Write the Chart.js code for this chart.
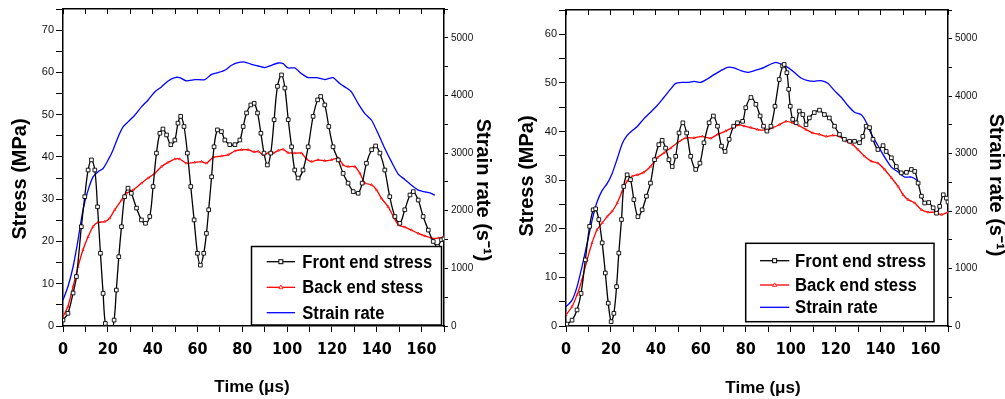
<!DOCTYPE html>
<html>
<head>
<meta charset="utf-8">
<script src="https://cdn.jsdelivr.net/npm/chart.js@4/dist/chart.umd.min.js"></script>
<style>
  html, body { margin: 0; padding: 0; background: #fff; width: 1005px; height: 399px; overflow: hidden; }
  canvas { position: absolute; top: 0; }
  #left { left: 0; }
  #right { left: 500px; }
</style>
</head>
<body>
<canvas id="left" width="500" height="399"></canvas>
<canvas id="right" width="505" height="399"></canvas>
<script>
// ---- Tick labels ----
const timeLabels = [0, 20, 40, 60, 80, 100, 120, 140, 160];
const rateLabels = [0, 1000, 2000, 3000, 4000, 5000];

// ---- Left panel: front end stress (MPa) ----
const leftFrontT = [0, 2.2, 4.5, 6.0, 8.2, 9.7, 11.2, 12.7, 14.2, 15.4, 16.7, 17.9, 18.9, 21.0, 22.8, 23.8, 24.9, 26.1, 27.5, 29.0, 30.5, 32.8, 35.0, 36.8, 38.7, 40.2, 41.7, 43.2, 44.6, 46.2, 48.1, 49.9, 51.3, 52.5, 54.0, 55.5, 57.0, 58.5, 60.0, 61.3, 62.8, 64.0, 65.0, 66.3, 67.4, 68.9, 70.7, 72.2, 74.4, 76.7, 78.9, 80.4, 81.9, 83.8, 85.3, 86.8, 88.3, 89.7, 91.2, 92.7, 94.2, 95.7, 97.5, 99.0, 100.5, 102.0, 103.4, 104.9, 107.1, 109.4, 111.6, 113.6, 115.0, 116.8, 118.6, 120.5, 122.8, 125.0, 127.2, 129.5, 131.7, 133.5, 135.4, 137.7, 139.5, 141.4, 143.6, 145.8, 148.1, 150.3, 152.5, 154.8, 156.3, 158.5, 160.7, 163.0, 165.2, 167.1, 168.9, 170.0];
const leftFrontS = [1.4, 3.0, 7.8, 11.7, 23.5, 30.6, 36.9, 39.3, 36.9, 28.2, 17.2, 7.7, 0.6, -3.0, 1.4, 8.5, 16.4, 23.5, 30.6, 32.6, 31.4, 27.9, 25.1, 24.3, 25.9, 33.0, 40.9, 45.6, 46.6, 45.2, 42.9, 44.0, 48.0, 49.6, 47.2, 40.9, 33.0, 25.1, 17.2, 14.4, 17.2, 21.9, 27.5, 35.3, 42.4, 46.4, 46.0, 44.0, 42.9, 42.9, 44.0, 47.2, 50.4, 52.3, 52.7, 50.4, 45.6, 40.9, 38.1, 40.9, 48.8, 56.7, 59.4, 56.3, 48.8, 42.4, 36.9, 35.0, 36.9, 42.4, 49.6, 53.5, 54.3, 52.3, 47.2, 42.4, 39.3, 36.1, 33.8, 31.8, 31.4, 33.8, 38.5, 41.7, 42.6, 40.9, 36.9, 30.6, 25.9, 24.3, 27.5, 31.0, 31.8, 29.8, 25.9, 22.7, 20.0, 18.8, 20.4, 20.6];

// ---- Left panel: back end stress (MPa) ----
const leftBackT = [0, 2.2, 4.5, 6.7, 8.9, 11.2, 13.4, 15.6, 18.6, 20.8, 23.1, 26.1, 28.3, 31.3, 35.0, 38.0, 40.9, 43.9, 46.9, 49.9, 52.1, 55.1, 58.8, 61.8, 64.0, 67.0, 70.7, 73.7, 76.7, 79.6, 82.6, 85.3, 87.1, 89.3, 91.5, 93.8, 96.0, 98.2, 100.4, 103.4, 106.4, 108.7, 110.9, 113.8, 116.8, 119.8, 122.8, 125.0, 127.2, 130.2, 132.5, 134.7, 137.7, 139.9, 142.1, 145.1, 147.4, 149.6, 152.5, 155.5, 158.5, 161.5, 164.5, 167.4, 170.0];
const leftBackS = [2.2, 4.6, 9.3, 14.0, 18.0, 21.1, 23.5, 24.5, 24.7, 25.5, 27.5, 29.8, 31.4, 32.2, 33.8, 35.0, 36.1, 37.7, 38.7, 39.5, 39.5, 38.5, 38.7, 38.9, 38.5, 39.9, 40.2, 40.5, 41.4, 41.7, 41.7, 41.2, 41.3, 40.5, 40.9, 40.9, 41.5, 41.8, 41.0, 40.9, 40.9, 39.5, 38.9, 39.3, 39.1, 39.3, 39.7, 38.1, 37.7, 37.7, 36.1, 33.8, 33.4, 32.2, 30.2, 28.2, 25.9, 23.9, 23.4, 22.7, 21.9, 21.3, 20.8, 20.8, 21.1];

// ---- Left panel: strain rate (1/s) ----
const leftRateT = [0, 2.2, 4.5, 6.7, 8.9, 11.2, 13.4, 15.6, 17.9, 20.1, 22.3, 24.6, 26.8, 29.0, 32.0, 35.0, 37.9, 40.9, 43.9, 46.9, 49.9, 52.1, 55.1, 58.8, 63.3, 66.3, 69.2, 72.2, 75.2, 78.1, 81.1, 84.1, 87.1, 90.0, 93.0, 96.0, 98.2, 100.4, 103.4, 106.4, 109.4, 113.1, 116.8, 120.5, 123.5, 126.5, 128.7, 131.7, 134.7, 137.7, 140.6, 143.6, 146.6, 149.6, 152.5, 155.5, 158.5, 161.5, 163.7, 165.9];
const leftRateR = [451, 681, 1028, 1490, 2010, 2357, 2587, 2674, 2733, 2877, 3050, 3281, 3454, 3541, 3657, 3801, 3917, 4061, 4148, 4252, 4310, 4310, 4252, 4275, 4275, 4367, 4397, 4437, 4523, 4570, 4580, 4540, 4511, 4483, 4523, 4563, 4552, 4477, 4477, 4379, 4310, 4310, 4275, 4310, 4206, 4130, 4061, 3859, 3686, 3570, 3339, 3080, 2847, 2634, 2542, 2444, 2357, 2328, 2310, 2270];

// ---- Right panel: front end stress (MPa) ----
const rightFrontT = [0.4, 2.7, 4.9, 6.7, 8.6, 10.5, 12.1, 13.2, 14.6, 16.1, 17.5, 18.8, 20.1, 21.3, 22.5, 23.5, 24.7, 25.7, 27.2, 28.7, 30.2, 32.0, 33.9, 35.8, 37.6, 39.4, 41.3, 42.8, 44.3, 45.8, 47.3, 48.8, 50.3, 52.0, 53.7, 55.5, 57.7, 59.6, 61.4, 63.7, 65.6, 67.4, 69.2, 70.8, 72.6, 74.6, 76.3, 78.6, 80.0, 82.3, 84.5, 86.4, 87.9, 89.4, 91.2, 93.0, 94.9, 96.4, 97.1, 98.3, 99.1, 99.8, 100.9, 102.4, 103.8, 105.4, 106.8, 108.3, 110.5, 112.8, 115.0, 117.2, 119.5, 121.7, 123.9, 126.2, 128.4, 130.6, 132.1, 133.6, 135.1, 136.6, 138.8, 141.1, 142.5, 144.8, 147.0, 149.2, 151.5, 153.7, 155.2, 156.7, 158.2, 159.6, 161.4, 163.4, 164.9, 166.3, 167.9, 169.3, 170.0];
const rightFrontS = [0.4, 1.2, 3.3, 6.7, 13.6, 20.5, 23.9, 24.1, 21.9, 17.1, 10.9, 4.7, 0.9, 2.6, 8.1, 15.0, 21.9, 28.7, 31.1, 30.1, 26.0, 22.5, 23.9, 26.7, 29.4, 34.2, 37.3, 38.2, 36.6, 34.2, 32.8, 34.9, 39.7, 41.8, 39.7, 34.9, 32.2, 33.5, 37.7, 41.8, 43.2, 41.1, 37.0, 35.9, 38.4, 41.1, 41.8, 42.1, 44.9, 47.0, 45.6, 43.2, 41.1, 40.1, 41.1, 45.2, 50.7, 53.5, 53.8, 52.1, 48.7, 45.2, 42.5, 41.8, 44.2, 43.5, 41.4, 42.8, 43.9, 44.4, 43.5, 42.8, 41.1, 39.4, 38.4, 38.0, 38.0, 37.7, 39.0, 41.1, 40.8, 38.4, 36.3, 37.1, 35.9, 34.6, 32.8, 31.5, 31.6, 32.2, 31.8, 29.4, 26.7, 25.3, 25.4, 24.3, 23.2, 24.6, 27.0, 26.3, 25.5];

// ---- Right panel: back end stress (MPa) ----
const rightBackT = [0, 2.7, 4.9, 7.1, 9.4, 11.6, 13.8, 16.1, 18.3, 20.5, 22.8, 25.0, 27.2, 29.5, 31.7, 34.6, 37.6, 40.6, 43.6, 46.6, 49.6, 53.3, 57.0, 60.7, 64.4, 67.4, 71.1, 74.1, 77.1, 79.3, 82.3, 85.3, 89.0, 92.0, 94.9, 97.9, 100.9, 103.8, 106.8, 109.8, 112.8, 115.8, 118.7, 121.7, 124.7, 127.7, 129.9, 132.9, 135.8, 138.8, 141.8, 144.8, 147.8, 150.0, 152.2, 155.2, 158.2, 161.2, 164.1, 167.1, 170.0];
const rightBackS = [2.3, 4.0, 6.4, 9.5, 13.6, 17.1, 19.8, 21.2, 22.5, 23.6, 25.3, 27.7, 29.8, 30.8, 31.1, 31.6, 32.8, 34.6, 35.6, 36.6, 37.7, 38.7, 38.7, 39.0, 38.6, 39.4, 40.1, 40.8, 41.4, 41.1, 40.8, 40.4, 40.3, 40.8, 41.4, 42.1, 41.8, 41.2, 40.4, 39.7, 39.4, 39.0, 39.2, 39.0, 38.0, 37.3, 36.3, 34.9, 33.9, 33.5, 32.2, 30.5, 28.7, 27.0, 26.0, 25.3, 23.9, 23.4, 23.4, 22.9, 23.4];

// ---- Right panel: strain rate (1/s) ----
const rightRateT = [0, 2.7, 4.9, 7.1, 9.4, 11.6, 13.8, 16.1, 18.3, 20.5, 22.8, 25.0, 27.2, 29.5, 31.7, 34.6, 37.6, 40.6, 43.6, 46.6, 48.8, 51.8, 54.7, 57.0, 60.0, 62.9, 65.9, 68.9, 71.9, 74.8, 77.8, 80.8, 83.8, 86.4, 88.2, 91.2, 93.4, 95.7, 98.7, 101.6, 104.6, 107.6, 110.5, 113.5, 116.5, 119.5, 122.5, 125.4, 128.4, 131.4, 133.6, 135.8, 138.8, 141.8, 144.8, 147.8, 150.7, 153.7, 155.9, 156.7];
const rightRateR = [335, 451, 682, 1029, 1436, 1840, 2158, 2361, 2477, 2651, 2911, 3172, 3316, 3403, 3472, 3606, 3720, 3837, 3981, 4126, 4224, 4241, 4241, 4259, 4241, 4300, 4375, 4444, 4502, 4491, 4444, 4415, 4444, 4474, 4502, 4560, 4588, 4560, 4502, 4415, 4317, 4271, 4259, 4271, 4224, 4097, 3981, 3837, 3720, 3675, 3547, 3345, 3142, 2939, 2765, 2679, 2592, 2592, 2547, 2505];

const FONT = "'Liberation Sans', Arial, Helvetica, sans-serif";
const NARROW = "'Liberation Sans Narrow', 'Arial Narrow', 'DejaVu Sans Condensed', 'Liberation Sans', Arial, sans-serif";

function pairs(ts, vs) { return ts.map((t, i) => ({ x: t, y: vs[i] })); }

// Axis titles and the framed legend box, drawn after the datasets.
const panelText = {
  id: 'panelText',
  afterDraw(chart, args, opts) {
    const ctx = chart.ctx;
    ctx.save();
    ctx.fillStyle = '#000';
    for (const t of opts.titles) {
      ctx.save();
      ctx.translate(t.x, t.y);
      ctx.rotate(t.rot * Math.PI / 180);
      ctx.font = 'bold ' + t.size + 'px ' + FONT;
      ctx.textAlign = 'center';
      ctx.textBaseline = 'alphabetic';
      ctx.fillText(t.text, 0, 0);
      ctx.restore();
    }
    const L = opts.legend;
    ctx.fillStyle = '#fff';
    ctx.fillRect(L.x, L.y, L.w, L.h);
    ctx.strokeStyle = '#000';
    ctx.lineWidth = 1.5;
    ctx.strokeRect(L.x, L.y, L.w, L.h);
    ctx.font = 'bold ' + L.size + 'px ' + FONT;
    const sx = L.textW / ctx.measureText(chart.data.datasets[0].label).width;
    chart.data.datasets.forEach((ds, i) => {
      const y = L.rows[i];
      const cx = (L.lineX0 + L.lineX1) / 2;
      ctx.strokeStyle = ds.borderColor;
      ctx.lineWidth = ds.borderWidth;
      ctx.beginPath();
      ctx.moveTo(L.lineX0, y);
      ctx.lineTo(L.lineX1, y);
      ctx.stroke();
      if (ds.pointStyle === 'rect') {
        ctx.fillStyle = '#fff';
        ctx.lineWidth = 1;
        ctx.fillRect(cx - 2, y - 2, 4, 4);
        ctx.strokeRect(cx - 2, y - 2, 4, 4);
      } else if (ds.pointStyle === 'triangle') {
        ctx.fillStyle = '#fff';
        ctx.lineWidth = 0.8;
        ctx.beginPath();
        ctx.moveTo(cx, y - 2.2);
        ctx.lineTo(cx + 2, y + 1.4);
        ctx.lineTo(cx - 2, y + 1.4);
        ctx.closePath();
        ctx.fill();
        ctx.stroke();
      }
      ctx.save();
      ctx.translate(L.textX, y);
      ctx.scale(sx, 1);
      ctx.fillStyle = '#000';
      ctx.textAlign = 'left';
      ctx.textBaseline = 'middle';
      ctx.fillText(ds.label, 0, 1);
      ctx.restore();
    });
    ctx.restore();
  }
};

function makePanel(id, p) {
  const axisColor = '#000';
  return new Chart(document.getElementById(id), {
    type: 'line',
    data: {
      datasets: [
        {
          label: 'Front end stress', data: p.front, yAxisID: 'y',
          borderColor: '#000', borderWidth: 1.3, tension: 0.35,
          pointStyle: 'rect', pointRadius: 2.6, pointBorderWidth: 0.9,
          pointBorderColor: '#000', pointBackgroundColor: '#fff'
        },
        {
          label: 'Back end stess', data: p.back, yAxisID: 'y',
          borderColor: '#ff0000', borderWidth: 1.3, tension: 0.2,
          pointStyle: 'triangle', pointRadius: 1.3, pointBorderWidth: 0.6,
          pointBorderColor: '#ff0000', pointBackgroundColor: '#ff8080'
        },
        {
          label: 'Strain rate', data: p.rate, yAxisID: 'y2',
          borderColor: '#0000ff', borderWidth: 1.3, tension: 0.2, pointRadius: 0
        }
      ]
    },
    options: {
      responsive: false, animation: false, devicePixelRatio: 1,
      layout: { padding: 0 },
      plugins: {
        legend: { display: false }, tooltip: { enabled: false },
        panelText: { titles: p.titles, legend: p.legend }
      },
      scales: {
        x: {
          type: 'linear', position: 'bottom', min: 0, max: 170,
          afterFit: s => { s.height = p.xh; },
          ticks: {
            stepSize: 10, autoSkip: false, maxRotation: 0, padding: 8, color: '#000',
            font: { family: NARROW, size: 16, weight: 'bold' },
            callback: v => timeLabels.includes(v) ? String(v) : ''
          },
          grid: { drawOnChartArea: false, color: axisColor, tickLength: 6, tickWidth: 1 },
          border: { color: axisColor, width: 1.5 }
        },
        xTop: {
          type: 'linear', position: 'top', min: 0, max: 170,
          afterFit: s => { s.height = p.topH; },
          ticks: { stepSize: 10, display: false },
          grid: { drawOnChartArea: false, color: axisColor, tickLength: -5, tickWidth: 1 },
          border: { color: axisColor, width: 1.5 }
        },
        y: {
          type: 'linear', position: 'left', min: 0, max: p.stressMax,
          afterFit: s => { s.width = p.yw; },
          ticks: {
            stepSize: 5, autoSkip: false, padding: 2, color: '#111',
            font: { family: FONT, size: 11 },
            callback: v => p.stressLabels.includes(v) ? String(v) : ''
          },
          grid: { drawOnChartArea: false, color: axisColor, tickLength: 7, tickWidth: 1 },
          border: { color: axisColor, width: 1.5 }
        },
        y2: {
          type: 'linear', position: 'right', min: 0, max: 5500,
          afterFit: s => { s.width = p.y2w; },
          ticks: {
            stepSize: 500, autoSkip: false, padding: 3, color: '#111',
            font: { family: FONT, size: 10 },
            callback: v => rateLabels.includes(v) ? String(v) : ''
          },
          grid: { drawOnChartArea: false, color: axisColor, tickLength: 4, tickWidth: 1 },
          border: { color: axisColor, width: 1.5 }
        }
      }
    },
    plugins: [panelText]
  });
}

makePanel('left', {
  front: pairs(leftFrontT, leftFrontS),
  back: pairs(leftBackT, leftBackS),
  rate: pairs(leftRateT, leftRateR),
  stressMax: 75, stressLabels: [0, 10, 20, 30, 40, 50, 60, 70],
  yw: 63, y2w: 56, xh: 73, topH: 8,
  titles: [
    { text: 'Time (\u03bcs)', x: 252, y: 392, rot: 0, size: 17 },
    { text: 'Stress (MPa)', x: 25.5, y: 179, rot: -90, size: 20 },
    { text: 'Strain rate (s\u207b\u00b9)', x: 477, y: 190, rot: 90, size: 20 }
  ],
  legend: { x: 251.5, y: 246.5, w: 190, h: 78.5, rows: [261.7, 287.3, 312.7],
            lineX0: 266.7, lineX1: 295, textX: 302.3, textW: 130, size: 18 }
});

makePanel('right', {
  front: pairs(rightFrontT, rightFrontS),
  back: pairs(rightBackT, rightBackS),
  rate: pairs(rightRateT, rightRateR),
  stressMax: 65, stressLabels: [0, 10, 20, 30, 40, 50, 60],
  yw: 66, y2w: 57, xh: 73, topH: 10,
  titles: [
    { text: 'Time (\u03bcs)', x: 263, y: 393, rot: 0, size: 17 },
    { text: 'Stress (MPa)', x: 33, y: 176, rot: -90, size: 20 },
    { text: 'Strain rate (s\u207b\u00b9)', x: 490, y: 185, rot: 90, size: 20 }
  ],
  legend: { x: 245.7, y: 243.3, w: 188.3, h: 78.4, rows: [260.7, 285, 307.3],
            lineX0: 260, lineX1: 289.3, textX: 295, textW: 131, size: 18 }
});
</script>
</body>
</html>
